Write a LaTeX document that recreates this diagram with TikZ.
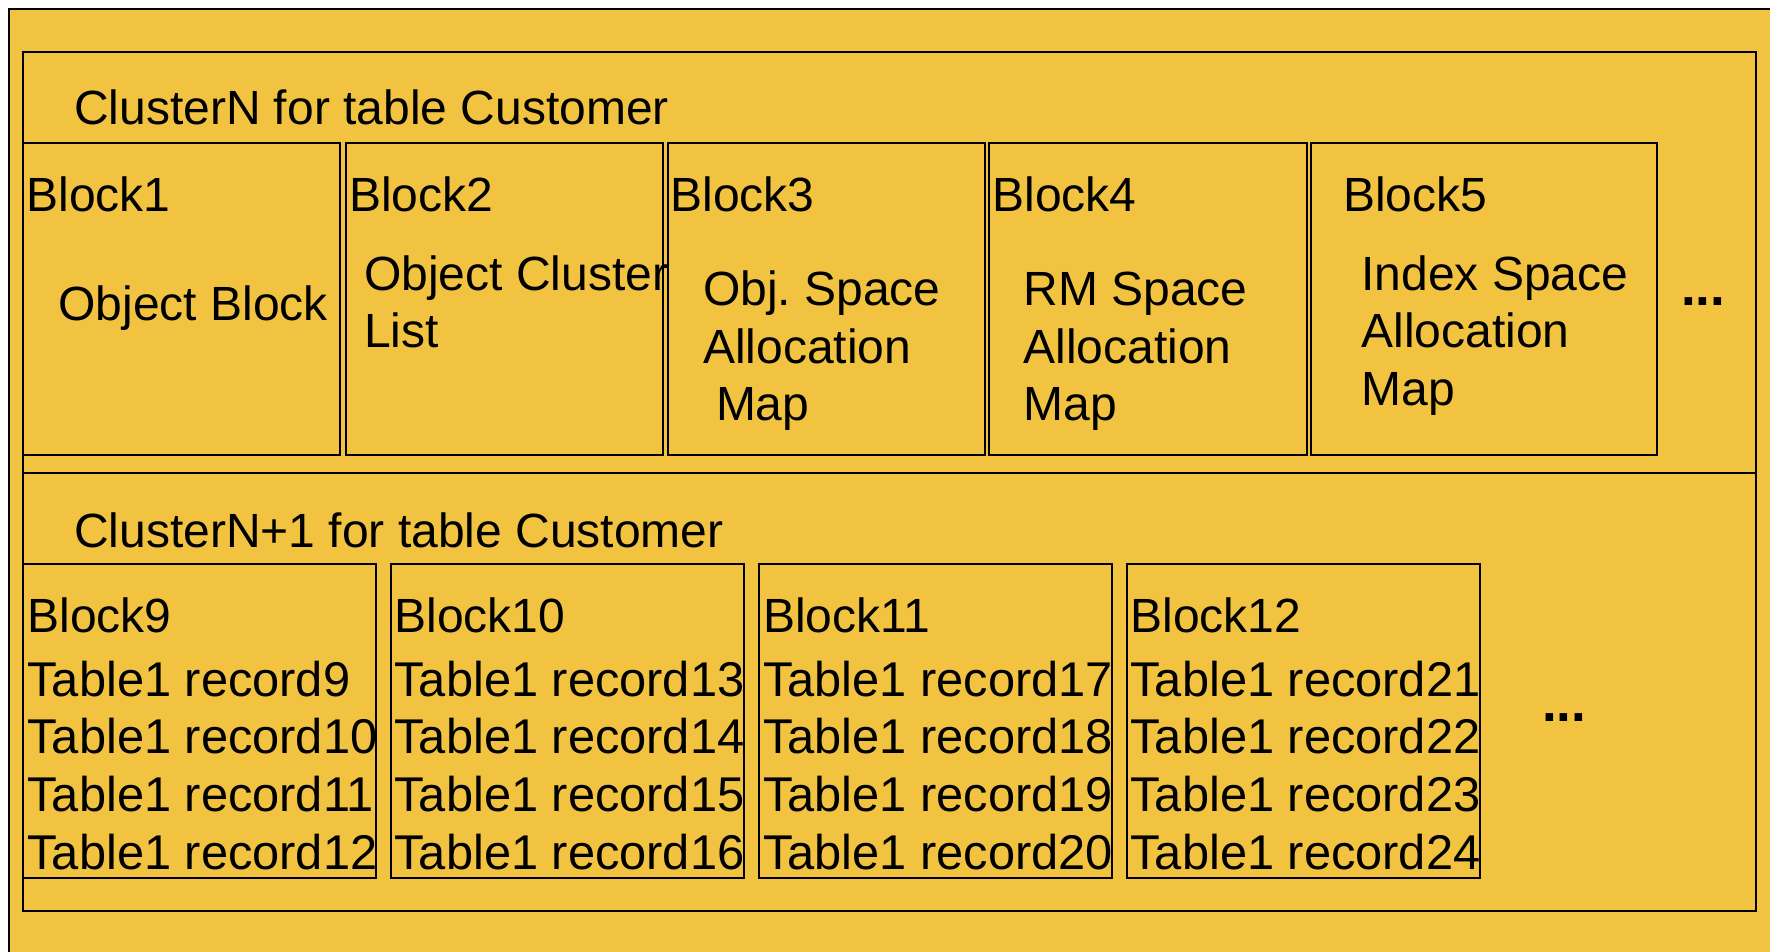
\documentclass[tikz,border=0pt]{standalone}
\usepackage{fontspec}
\setmainfont{Liberation Sans}
\definecolor{bg}{RGB}{241,195,64}
\begin{document}
\begin{tikzpicture}[x=1pt,y=-1pt,
  txt/.style={anchor=base west, inner sep=0pt, outer sep=0pt, font=\fontsize{48}{58}\selectfont},
  rec/.style={anchor=base west, inner sep=0pt, outer sep=0pt, font=\fontsize{48.8}{58}\selectfont},
  dotsty/.style={anchor=base west, inner sep=0pt, outer sep=0pt, font=\fontsize{53}{60}\selectfont\bfseries},
  blkA/.style={draw, line width=2.6pt, anchor=north west, inner sep=0pt, outer sep=0pt, minimum height=312pt},
  blkB/.style={draw, line width=1.6pt, anchor=north west, inner sep=0pt, outer sep=0pt, minimum height=314pt, minimum width=353pt},
  clus/.style={draw, line width=2.2pt, anchor=north west, inner sep=0pt, outer sep=0pt}]
\useasboundingbox (0,0) rectangle (1770,951);
\clip (0,0) rectangle (1770,951);
\fill[white] (0,0) rectangle (1770,951);
\node[draw, fill=bg, line width=2pt, anchor=north west, inner sep=0pt, minimum width=1800pt, minimum height=1000pt] (outer) at (8,8) {};
% clusters
\node[clus, minimum width=1733pt, minimum height=421pt] (cN) at (23,52) {};
\node[clus, minimum width=1733pt, minimum height=438pt] (cN1) at (23,473) {};
\node[txt] (tN) at (74,124) {ClusterN for table Customer};
\node[txt] (tN1) at (74,547) {ClusterN+1 for table Customer};
% row 1 blocks
\node[blkA, minimum width=317pt] (b1) at (23,143) {};
\node[blkA, minimum width=317pt] (b2) at (346,143) {};
\node[blkA, minimum width=317pt] (b3) at (668,143) {};
\node[blkA, minimum width=318pt] (b4) at (989,143) {};
\node[blkA, minimum width=346pt] (b5) at (1311,143) {};
\node[txt] (l1) at (26.5,211) {Block1};
\node[txt] (l2) at (349,211) {Block2};
\node[txt] (l3) at (670.5,211) {Block3};
\node[txt] (l4) at (992.5,211) {Block4};
\node[txt] (l5) at (1343,211) {Block5};
\node[txt] (d1) at (58.5,320) {Object Block};
\node[txt] (d2a) at (364,290) {Object Cluster};
\node[txt] (d2b) at (364,347) {List};
\node[txt] (d3a) at (703,305) {Obj.\ Space};
\node[txt] (d3b) at (703,363) {Allocation};
\node[txt] (d3c) at (716,420) {Map};
\node[txt] (d4a) at (1023.5,305) {RM Space};
\node[txt] (d4b) at (1023.5,363) {Allocation};
\node[txt] (d4c) at (1023.5,420) {Map};
\node[txt] (d5a) at (1361.5,290) {Index Space};
\node[txt] (d5b) at (1361.5,347) {Allocation};
\node[txt] (d5c) at (1361.5,405) {Map};
\node[dotsty] (dots1) at (1681,305) {...};
% row 2 blocks
\node[blkB] (b9) at (23,564) {};
\node[blkB] (b10) at (391,564) {};
\node[blkB] (b11) at (759,564) {};
\node[blkB] (b12) at (1127,564) {};
\foreach \n/\x/\r in {9/27.5/9, 10/394.5/13, 11/763/17, 12/1130.5/21} {
  \node[txt] (h\n) at (\x,632) {Block\n};
  \pgfmathtruncatemacro{\ra}{\r}
  \pgfmathtruncatemacro{\rb}{\r+1}
  \pgfmathtruncatemacro{\rc}{\r+2}
  \pgfmathtruncatemacro{\rd}{\r+3}
  \node[rec] (r\n a) at (\x,696) {Table1 record\ra};
  \node[rec] (r\n b) at (\x,753) {Table1 record\rb};
  \node[rec] (r\n c) at (\x,811) {Table1 record\rc};
  \node[rec] (r\n d) at (\x,869) {Table1 record\rd};
}
\node[dotsty] (dots2) at (1542,721) {...};
\end{tikzpicture}
\end{document}
